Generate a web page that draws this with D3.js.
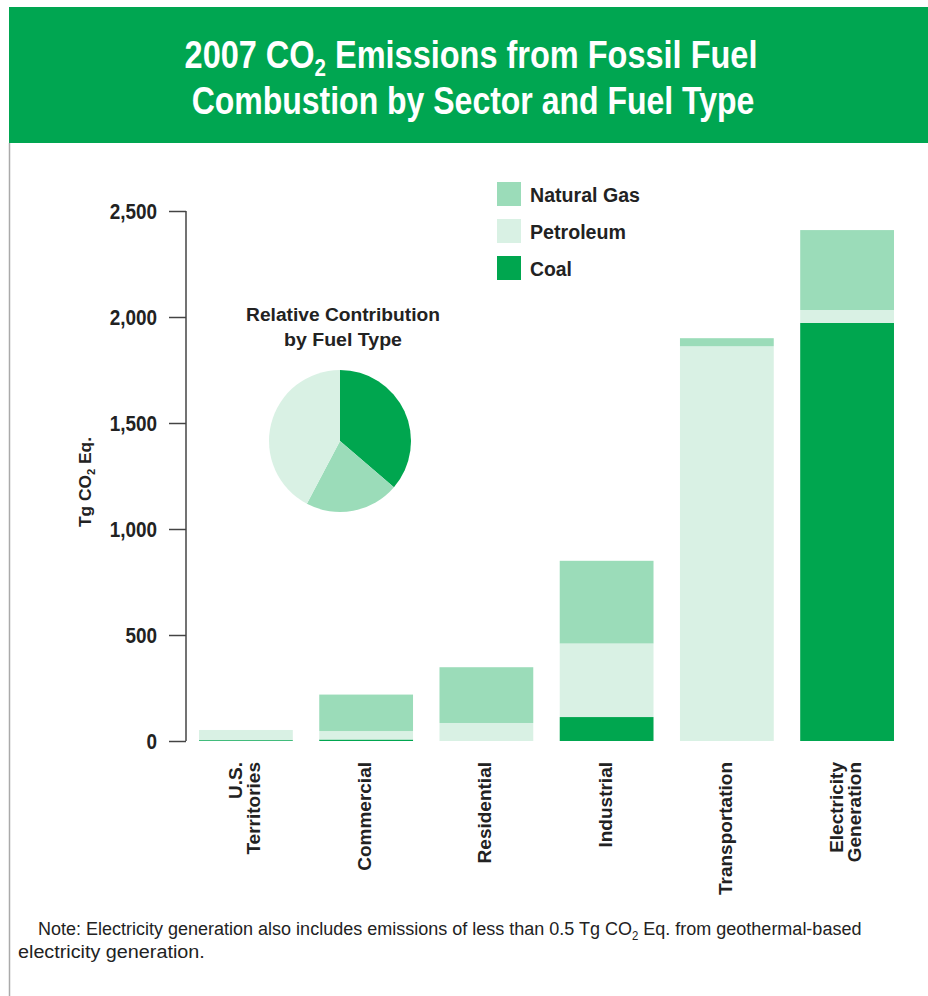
<!DOCTYPE html>
<html>
<head>
<meta charset="utf-8">
<script src="https://cdn.jsdelivr.net/npm/d3@7"></script>
<style>
  html, body { margin: 0; padding: 0; background: #fff; }
  svg { display: block; }
</style>
</head>
<body>
<svg id="chart" width="928" height="996"></svg>
<script>
// --- Data (Tg CO2 Eq.) ---
const sectors = ["U.S. Territories", "Commercial", "Residential", "Industrial", "Transportation", "Electricity Generation"];
const sectorLines = [["U.S.", "Territories"], ["Commercial"], ["Residential"], ["Industrial"], ["Transportation"], ["Electricity", "Generation"]];
const fuels = ["Coal", "Petroleum", "Natural Gas"];
const coal = [4, 7, 0, 113, 0, 1972];
const petroleum = [48, 40, 85, 347, 1862, 61];
const naturalGas = [0, 172, 263, 390, 38, 377];
const yTicks = [0, 500, 1000, 1500, 2000, 2500];
const legendOrder = ["Natural Gas", "Petroleum", "Coal"];

const colors = { "Coal": "#00a64f", "Petroleum": "#d9f1e4", "Natural Gas": "#9bdcb9" };
const headerGreen = "#00a651";

const svg = d3.select("#chart");
const sans = "'Liberation Sans', Arial, sans-serif";
const cond = "'DejaVu Sans Condensed', 'Liberation Sans', sans-serif";

// squeeze a text horizontally to a target width (fake condensed face), around pivot px
function fit(sel, target, px) {
  const w = sel.node().getBBox().width;
  const s = target / w;
  const prev = sel.attr("transform") || "";
  sel.attr("transform", `${prev} translate(${px},0) scale(${s},1) translate(${-px},0)`);
  return sel;
}

// --- Header & frame ---
svg.append("rect").attr("x", 9).attr("y", 7).attr("width", 919).attr("height", 136).attr("fill", headerGreen);
svg.append("line").attr("x1", 9.5).attr("x2", 9.5).attr("y1", 143).attr("y2", 996)
  .attr("stroke", "#aaa").attr("stroke-width", 1.5);

const tl1 = svg.append("text").attr("x", 471).attr("y", 68).attr("text-anchor", "middle").attr("fill", "#fff")
  .style("font-family", sans).style("font-weight", "bold").style("font-size", "38px");
tl1.append("tspan").text("2007 CO");
tl1.append("tspan").text("2").attr("dy", 8).style("font-size", "24px");
tl1.append("tspan").text(" Emissions from Fossil Fuel").attr("dy", -8);
fit(tl1, 573, 471);
const tl2 = svg.append("text").attr("x", 473).attr("y", 114).attr("text-anchor", "middle").attr("fill", "#fff")
  .style("font-family", sans).style("font-weight", "bold").style("font-size", "38px")
  .text("Combustion by Sector and Fuel Type");
fit(tl2, 563, 473);

// --- Scales ---
const x = d3.scaleBand().domain(sectors).range([193, 900]).paddingInner(0.22).paddingOuter(0.05);
const y = d3.scaleLinear().domain([0, 2500]).range([741, 211]);

// --- Stacked bars ---
const table = sectors.map((s, i) => ({ sector: s, "Coal": coal[i], "Petroleum": petroleum[i], "Natural Gas": naturalGas[i] }));
const series = d3.stack().keys(fuels)(table);

svg.append("g").selectAll("g").data(series).join("g")
  .attr("fill", d => colors[d.key])
  .selectAll("rect").data(d => d).join("rect")
  .attr("x", d => x(d.data.sector))
  .attr("width", x.bandwidth())
  .attr("y", d => y(d[1]))
  .attr("height", d => y(d[0]) - y(d[1]));

// --- Y axis ---
const yAxis = svg.append("g").attr("transform", "translate(186,0)")
  .call(d3.axisLeft(y).tickValues(yTicks).tickSize(17).tickPadding(12).tickFormat(d3.format(",")));
yAxis.select(".domain").attr("stroke", "#444").attr("stroke-width", 1.5).attr("d", "M0,211V741");
yAxis.selectAll(".tick line").attr("stroke", "#444").attr("stroke-width", 1.5);
yAxis.selectAll(".tick text").attr("fill", "#222")
  .style("font-family", sans).style("font-weight", "bold").style("font-size", "22px")
  .each(function () { fit(d3.select(this), this.getBBox().width * 0.86, -29); });

const yl = svg.append("text").attr("transform", "translate(91,482) rotate(-90)").attr("text-anchor", "middle")
  .attr("fill", "#222").style("font-family", sans).style("font-weight", "bold").style("font-size", "17px");
yl.append("tspan").text("Tg CO");
yl.append("tspan").text("2").attr("dy", 4).style("font-size", "11px");
yl.append("tspan").text(" Eq.").attr("dy", -4);
fit(yl, 90, 0);

// --- X labels (rotated) ---
sectorLines.forEach((lines, i) => {
  const cx = x(sectors[i]) + x.bandwidth() / 2;
  const n = lines.length;
  lines.forEach((ln, j) => {
    const lx = cx + (j - (n - 1) / 2) * 18 + 5;
    svg.append("text")
      .attr("transform", `translate(${lx},762) rotate(-90)`)
      .attr("text-anchor", "end")
      .attr("fill", "#222")
      .style("font-family", sans)
      .style("font-weight", "bold").style("font-size", "19px")
      .text(ln);
  });
});

// --- Legend ---
const lg = svg.append("g").attr("transform", "translate(497,182)");
const legendW = { "Natural Gas": 110, "Petroleum": 96, "Coal": 42 };
legendOrder.forEach((k, i) => {
  lg.append("rect").attr("x", 0).attr("y", i * 37).attr("width", 24).attr("height", 24).attr("fill", colors[k]);
  const t = lg.append("text").attr("x", 33).attr("y", i * 37 + 20).text(k).attr("fill", "#222")
    .style("font-family", sans).style("font-weight", "bold").style("font-size", "21px");
  fit(t, legendW[k], 33);
});

// --- Pie ---
const totals = fuels.map(f => ({ key: f, value: d3.sum(table, d => d[f]) }));
const pieOrder = ["Coal", "Natural Gas", "Petroleum"];
const pie = d3.pie().sort(null).value(d => d.value);
const arcs = pie(pieOrder.map(k => totals.find(t => t.key === k)));
const arc = d3.arc().innerRadius(0).outerRadius(71);
svg.append("g").attr("transform", "translate(340,441)")
  .selectAll("path").data(arcs).join("path")
  .attr("d", arc).attr("fill", d => colors[d.data.key]);

const pt1 = svg.append("text").attr("x", 343).attr("y", 321).attr("text-anchor", "middle").attr("fill", "#222")
  .style("font-family", sans).style("font-weight", "bold").style("font-size", "19px").text("Relative Contribution");
fit(pt1, 194, 343);
const pt2 = svg.append("text").attr("x", 343).attr("y", 346).attr("text-anchor", "middle").attr("fill", "#222")
  .style("font-family", sans).style("font-weight", "bold").style("font-size", "19px").text("by Fuel Type");
fit(pt2, 118, 343);

// --- Note ---
const n1 = svg.append("text").attr("x", 38).attr("y", 935).attr("fill", "#222")
  .style("font-family", sans).style("font-size", "19px");
n1.append("tspan").text("Note: Electricity generation also includes emissions of less than 0.5 Tg CO");
n1.append("tspan").text("2").attr("dy", 5).style("font-size", "12px");
n1.append("tspan").text(" Eq. from geothermal-based").attr("dy", -5);
fit(n1, 824, 38);
const n2 = svg.append("text").attr("x", 18).attr("y", 958).attr("fill", "#222")
  .style("font-family", sans).style("font-size", "19px").text("electricity generation.");
fit(n2, 187, 18);
</script>
</body>
</html>
